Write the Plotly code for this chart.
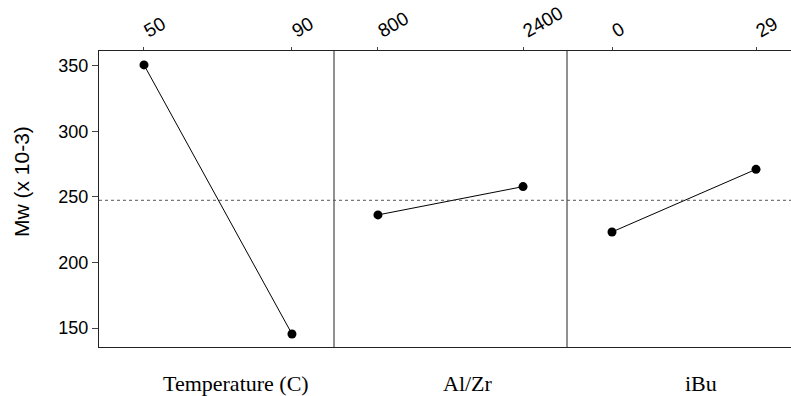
import plotly.graph_objects as go

# Data
factors = ["Temperature (C)", "Al/Zr", "iBu"]
levels = [["50", "90"], ["800", "2400"], ["0", "29"]]
temp_mw = [350.8, 145.4]
alzr_mw = [236.3, 257.9]
ibu_mw = [223.3, 271.1]
y_ticks = [150, 200, 250, 300, 350]
y_title = "Mw (x 10-3)"

series = [temp_mw, alzr_mw, ibu_mw]
all_vals = temp_mw + alzr_mw + ibu_mw
grand_mean = sum(all_vals) / len(all_vals)

W, H = 791, 396
ml, mt, mb, mr = 99, 51, 49, 0
plot_w = W - ml - mr
plot_h = H - mt - mb
bounds_px = [99, 334, 567, 791]
domains = [[(bounds_px[i] - ml) / plot_w, (bounds_px[i + 1] - ml) / plot_w] for i in range(3)]
xranges = [[-0.304, 1.284], [-0.303, 1.303], [-0.3125, 1.243]]

fig = go.Figure()
font_sans = "Liberation Sans, Arial, sans-serif"
font_serif = "Liberation Serif, Times New Roman, serif"

for i in range(3):
    xa = "x" if i == 0 else f"x{i+1}"
    fig.add_trace(go.Scatter(
        x=[0, 1], y=series[i], xaxis=xa, yaxis="y",
        mode="lines+markers",
        line=dict(color="black", width=1),
        marker=dict(color="black", size=9),
        showlegend=False, hoverinfo="skip"))
    axkey = "xaxis" if i == 0 else f"xaxis{i+1}"
    fig.layout[axkey] = dict(
        domain=domains[i], range=xranges[i], anchor="y", side="top",
        tickmode="array", tickvals=[0, 1], ticktext=levels[i],
        tickangle=-30, ticks="outside", ticklen=3, tickcolor="#444",
        showline=True, linecolor="#222", linewidth=1, mirror=True,
        showgrid=False, zeroline=False,
        tickfont=dict(family=font_sans, size=19, color="black"))
    fig.add_annotation(
        x=0.62, xref=xa, y=0, yref="paper", yshift=-36,
        text=factors[i], showarrow=False, yanchor="middle", xanchor="center",
        font=dict(family=font_serif, size=22, color="black"))

# y axis title
fig.add_annotation(
    x=0, xref="paper", xshift=-78, y=(H - mb - 182) / plot_h, yref="paper",
    text=y_title, textangle=-90, showarrow=False,
    xanchor="center", yanchor="middle",
    font=dict(family=font_sans, size=21, color="black"))

# divider lines between panels
for i in range(1, 3):
    fig.add_shape(type="line", xref="paper", yref="paper",
                  x0=domains[i][0], x1=domains[i][0], y0=0, y1=1,
                  line=dict(color="#222", width=1))

# grand mean reference line
fig.add_shape(type="line", xref="paper", yref="y", x0=0, x1=1,
              y0=grand_mean, y1=grand_mean,
              line=dict(color="#555", width=1, dash="dot"))

fig.update_layout(
    width=W, height=H,
    margin=dict(l=ml, r=mr, t=mt, b=mb, pad=0),
    paper_bgcolor="white", plot_bgcolor="white",
    yaxis=dict(range=[135.5, 361.4], anchor="x", tickvals=y_ticks,
               ticks="outside", ticklen=6, tickcolor="#444",
               showline=True, linecolor="#222", linewidth=1,
               showgrid=False, zeroline=False,
               tickfont=dict(family=font_sans, size=18, color="black")),
)

fig.write_html("out.html")
